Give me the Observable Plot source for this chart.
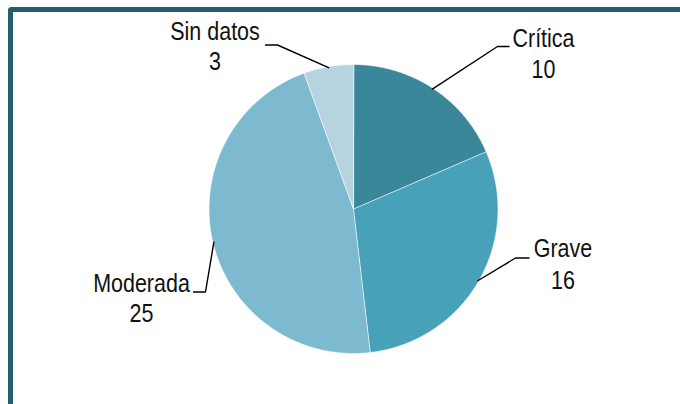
<!DOCTYPE html>
<html><head><meta charset="utf-8">
<script src="https://cdn.jsdelivr.net/npm/d3@7"></script>
<script src="https://cdn.jsdelivr.net/npm/@observablehq/plot@0.6"></script>
<style>
html,body{margin:0;padding:0;background:#fff;}
#wrap{position:relative;width:680px;height:404px;overflow:hidden;}
#chart{position:absolute;left:0;top:0;}
#frame{position:absolute;left:8px;top:7px;width:720px;height:440px;border-top:5px solid #245E6E;border-left:5px solid #245E6E;border-top-left-radius:4px;box-sizing:border-box;pointer-events:none;}
</style></head><body>
<div id="wrap"><div id="chart"></div><div id="frame"></div></div>
<script>
// ---- data ----
const categories = ["Crítica", "Grave", "Moderada", "Sin datos"];
const values = [10, 16, 25, 3];
const valueLabels = ["10", "16", "25", "3"];
const colors = ["#3A8799", "#47A2B9", "#7DB9CF", "#B5D4E0"];

// ---- layout constants (pixels) ----
const W = 680, H = 404, CX = 353, CY = 208.5, R = 144.5;
const FONT = "'Liberation Sans',Arial,sans-serif";
const FONT_SIZE = 25, SQUEEZE = 0.86;
const layout = {
  "Crítica":   {elbow: [497, 46],    end: [508.5, 46],   tx: 543,   ty: 46.5,  gap: 30.5},
  "Grave":     {elbow: [515, 257.5], end: [528.5, 257.5], tx: 562.5, ty: 256.5, gap: 31.5},
  "Moderada":  {elbow: [205, 291.5], end: [193, 291.5],  tx: 141,   ty: 291.5, gap: 29.5},
  "Sin datos": {elbow: [277, 44.5],  end: [265, 44.5],   tx: 214.5, ty: 39.5,  gap: 30}
};
const px = (x) => x - CX, py = (y) => CY - y;

const pie = d3.pie().sort(null).value(d => d.value)(
  categories.map((c, i) => ({category: c, value: values[i], label: valueLabels[i]}))
);
const pol = (a, r) => [r * Math.sin(a), r * Math.cos(a)];

const sliceRows = [];
const leaderRows = [];
const labelRows = [];
pie.forEach(p => {
  const c = p.data.category;
  sliceRows.push({category: c, x: 0, y: 0});
  const n = Math.max(2, Math.ceil((p.endAngle - p.startAngle) / (Math.PI / 360)));
  for (let k = 0; k <= n; k++) {
    const a = p.startAngle + (p.endAngle - p.startAngle) * k / n;
    const [x, y] = pol(a, R);
    sliceRows.push({category: c, x, y});
  }
  const L = layout[c];
  const mid = (p.startAngle + p.endAngle) / 2;
  const [sx, sy] = pol(mid, R - 1);
  leaderRows.push({category: c, x: sx, y: sy});
  leaderRows.push({category: c, x: px(L.elbow[0]), y: py(L.elbow[1])});
  leaderRows.push({category: c, x: px(L.end[0]), y: py(L.end[1])});
  labelRows.push({category: c, name: c, value: p.data.label, x: px(L.tx), y: py(L.ty), y2: py(L.ty + L.gap)});
});

const chart = Plot.plot({
  width: W, height: H, margin: 0,
  style: {background: "none", overflow: "visible"},
  x: {domain: [-CX, W - CX], axis: null},
  y: {domain: [CY - H, CY], axis: null},
  color: {domain: categories, range: colors},
  marks: [
    Plot.line(sliceRows, {x: "x", y: "y", z: "category", fill: "category", stroke: "white", strokeWidth: 0.6, curve: "linear-closed"}),
    Plot.line(leaderRows, {x: "x", y: "y", z: "category", stroke: "#000", strokeWidth: 1.4, strokeLinejoin: "miter"}),
    Plot.text(labelRows, {x: "x", y: "y", text: "name", lineAnchor: "bottom", fontSize: FONT_SIZE, fontFamily: FONT, fill: "#111"}),
    Plot.text(labelRows, {x: "x", y: "y2", text: "value", lineAnchor: "bottom", fontSize: FONT_SIZE, fontFamily: FONT, fill: "#111"})
  ]
});
// condense label glyphs horizontally (narrow typeface look)
chart.querySelectorAll("text").forEach(t => {
  let tr = t.getAttribute("transform") || "";
  if (t.hasAttribute("x") || t.hasAttribute("y")) {
    const x = +t.getAttribute("x") || 0, y = +t.getAttribute("y") || 0;
    t.removeAttribute("x"); t.removeAttribute("y");
    tr += ` translate(${x},${y})`;
  }
  t.setAttribute("transform", `${tr} scale(${SQUEEZE},1)`);
});
document.getElementById("chart").appendChild(chart);
</script>
</body></html>
